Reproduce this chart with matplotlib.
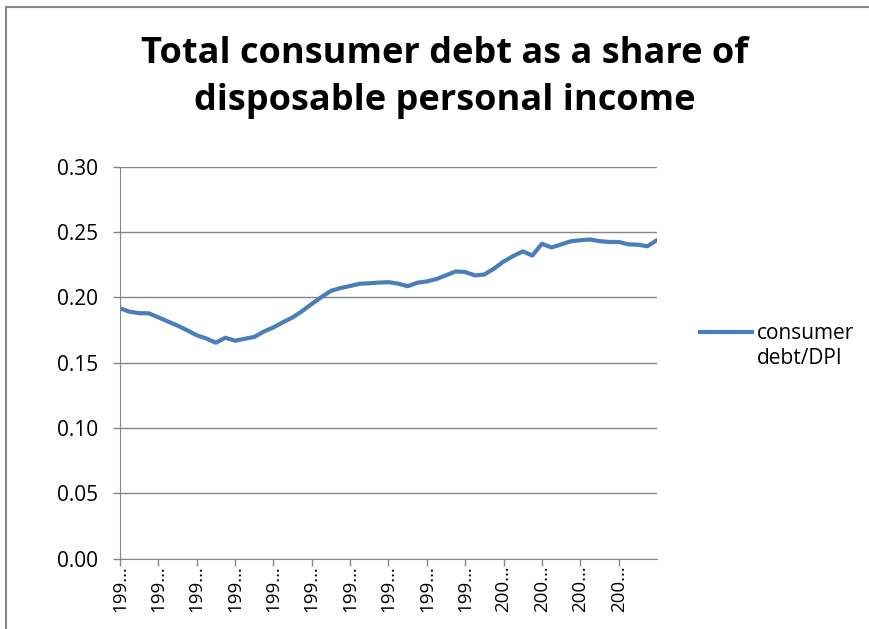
import matplotlib
matplotlib.use("Agg")
import matplotlib.pyplot as plt
from matplotlib.lines import Line2D

# quarterly ratio of consumer debt to disposable personal income, 1990Q1 onwards
ratio = [0.1916, 0.1890, 0.1879, 0.1878, 0.1847, 0.1815, 0.1784, 0.1748,
         0.1710, 0.1685, 0.1653, 0.1691, 0.1668, 0.1683, 0.1697, 0.1738,
         0.1770, 0.1810, 0.1846, 0.1895, 0.1950, 0.2002, 0.2050, 0.2071,
         0.2087, 0.2104, 0.2108, 0.2113, 0.2116, 0.2105, 0.2085, 0.2112,
         0.2122, 0.2140, 0.2169, 0.2198, 0.2194, 0.2168, 0.2175, 0.2220,
         0.2274, 0.2316, 0.2352, 0.2320, 0.2410, 0.2382, 0.2405, 0.2429,
         0.2437, 0.2443, 0.2430, 0.2424, 0.2424, 0.2406, 0.2403, 0.2391,
         0.2439]
tick_labels = ["199…"] * 10 + ["200…"] * 4
y_ticks = [0.00, 0.05, 0.10, 0.15, 0.20, 0.25, 0.30]
series_name = "consumer\ndebt/DPI"

plt.rcParams['font.family'] = ['Open Sans', 'DejaVu Sans']

fig = plt.figure(figsize=(8.7, 6.29), dpi=100)
ax = fig.add_axes([0.1379, 0.1118, 0.6173, 0.6232])

line_color = '#4a7ebb'
x = list(range(len(ratio)))
ax.plot(x, ratio, color=line_color, lw=3, solid_joinstyle='round',
        solid_capstyle='round')

ax.set_xlim(0, len(ratio) - 1)
ax.set_ylim(0, 0.30)
ax.set_yticks(y_ticks)
ax.set_yticklabels([f"{v:.2f}" for v in y_ticks])
ax.set_xticks(range(0, 4 * len(tick_labels), 4))
ax.set_xticklabels(tick_labels, rotation=90)
ax.tick_params(axis='both', colors='#868686', labelcolor='black',
               labelsize=15, length=5, width=1)
ax.tick_params(axis='y', pad=11)
ax.tick_params(axis='x', pad=0, labelsize=13.5)

ax.grid(axis='y', color='#868686', lw=1)
ax.set_axisbelow(True)
for side in ['top', 'right']:
    ax.spines[side].set_visible(False)
ax.spines['left'].set_color('#868686')
ax.spines['bottom'].set_color('#868686')

fig.text(0.511, 0.877, "Total consumer debt as a share of\ndisposable personal income",
         ha='center', va='center', fontsize=26, fontweight='bold',
         linespacing=1.42)

# legend, handle level with the first text line as in the original
fig.add_artist(Line2D([700 / 870, 752 / 870], [1 - 332 / 629, 1 - 332 / 629],
                      color=line_color, lw=3))
# multi-line text with baseline alignment sits on the last line's baseline
fig.text(757 / 870, 1 - 364 / 629, series_name, ha='left', va='baseline',
         fontsize=15, linespacing=1.25)

# chart border
fig.add_artist(Line2D([0.007, 1.0], [0.989, 0.989], color='#888888', lw=1.5))
fig.add_artist(Line2D([0.007, 0.007], [0.0, 0.989], color='#888888', lw=1.5))

fig.savefig("out.png", dpi=100)
